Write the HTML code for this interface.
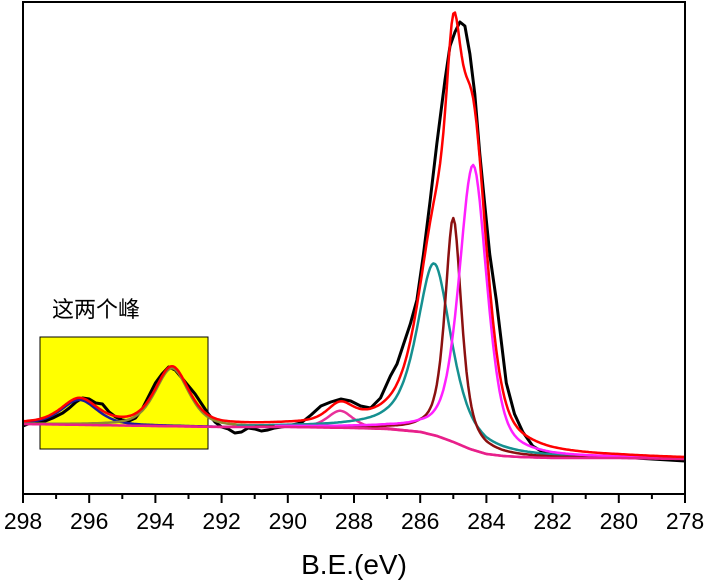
<!DOCTYPE html>
<html><head><meta charset="utf-8"><style>
html,body{margin:0;padding:0;background:#fff;width:708px;height:581px;overflow:hidden}
svg{display:block}
text{font-family:"Liberation Sans","Noto Sans CJK SC",sans-serif}
</style></head><body>
<svg id="chart" width="708" height="581"></svg>
<script>
// Binding energy axis ticks
const xTicks = [298,296,294,292,290,288,286,284,282,280,278];
const xMinorTicks = [297,295,293,291,289,287,285,283,281,279];
// Shirley background (energy, intensity)
const bgE = [298,292,290,288,287,286,285.5,285,284.5,284,283.5,283,282,280,278];
const bgV = [70,67,67,66,65,62,58,52,45,40,38,37,36,36,35];
// Fitted components
const compNames = ["blue-peak","olive-peak","pink-peak","teal-peak","maroon-peak","magenta-peak"];
const compCenters = [296.3,293.5,288.42,285.58,285.0,284.4];
const compHeights = [25,58,17,172,224,285];
const compFwhm = [1.3,1.2,0.9,1.25,0.6,1.0];
const compLorentz = [0.5,0.5,0.5,0.7,0.7,0.5];
const compColors = ["#1a1a9a","#8c8a30","#e8309a","#159090","#8b1010","#ff20ff"];
// Raw measured data
const rawE = [298,297.7,297.4,297.1,296.8,296.6,296.4,296.2,296,295.8,295.6,295.4,295.2,295,294.8,294.6,294.4,294.2,294,293.8,293.6,293.4,293.2,293,292.8,292.6,292.4,292.2,292,291.8,291.6,291.4,291.2,291,290.8,290.6,290.4,290.2,290,289.6,289.3,289,288.7,288.4,288.1,287.8,287.5,287.2,286.9,286.7,286.5,286.3,286.1,285.9,285.7,285.5,285.25,285.1,284.95,284.8,284.65,284.5,284.35,284.2,284.05,283.9,283.7,283.4,283.15,282.9,282.6,282.3,282,281.5,281,280.5,280,279.5,279,278.5,278];
const rawV = [68,72,72,76,81,86,92,96,95,91,90,82,77,74,73,76,85,98,111,120,127,124,116,108,100,90,80,72,67,65,61,62,66,65,63,64,66,67,68,71,79,88,92,95,93,88,86,96,118,130,150,170,194,240,293,350,414,448,462,472,468,440,400,340,290,240,194,111,80,62,48,42,40,39,38,37,37,36,35,34,33];

const W=708,H=581,L=23,R=685,T=2,B=494;
const xs = e => L + (298 - e) / 20 * (R - L);
const ys = v => B - v / 492 * (B - T);
const svg = document.getElementById('chart');
const NS='http://www.w3.org/2000/svg';
function mk(tag, attrs){const el=document.createElementNS(NS,tag);for(const k in attrs)el.setAttribute(k,attrs[k]);svg.appendChild(el);return el;}
function bgAt(e){
  if(e>=bgE[0])return bgV[0];
  for(let i=0;i<bgE.length-1;i++){ if(e<=bgE[i]&&e>=bgE[i+1]){const t=(bgE[i]-e)/(bgE[i]-bgE[i+1]);return bgV[i]+t*(bgV[i+1]-bgV[i]);}}
  return bgV[bgV.length-1];
}
function peak(i,e){const d=(e-compCenters[i])/compFwhm[i];const g=Math.exp(-4*Math.LN2*d*d),l=1/(1+4*d*d);const m=compLorentz[i];return compHeights[i]*((1-m)*g+m*l);}
const grid=[];for(let e=298;e>=278-1e-9;e-=0.05)grid.push(e);

// highlight box
let el=mk('rect',{x:40,y:337,width:168,height:112,fill:'#ffff00',stroke:'#000','stroke-width':1});


el=mk('text',{x:52,y:317,'font-size':22,fill:'#000'});el.textContent='这两个峰';



// raw data
el=mk('polyline',{points:rawE.map((e,i)=>xs(e).toFixed(1)+','+ys(rawV[i]).toFixed(1)).join(' '),fill:'none',stroke:'#000','stroke-width':3,'stroke-linejoin':'round'});



// components
compNames.forEach((n,i)=>{
  const pts=grid.filter(e=>Math.abs(e-compCenters[i])<6).map(e=>xs(e).toFixed(1)+','+ys(bgAt(e)+peak(i,e)).toFixed(1)).join(' ');
  const p=mk('polyline',{points:pts,fill:'none',stroke:compColors[i],'stroke-width':2.5,'stroke-linejoin':'round'});
  
  
});
// background
el=mk('polyline',{points:grid.map(e=>xs(e).toFixed(1)+','+ys(bgAt(e)).toFixed(1)).join(' '),fill:'none',stroke:'#e8208a','stroke-width':2.5});


// envelope
el=mk('polyline',{points:grid.map(e=>{let v=bgAt(e);for(let i=0;i<compCenters.length;i++)v+=peak(i,e);return xs(e).toFixed(1)+','+ys(v).toFixed(1);}).join(' '),fill:'none',stroke:'#ff0000','stroke-width':2.5,'stroke-linejoin':'round'});



// frame
el=mk('rect',{x:L,y:T,width:R-L,height:B-T,fill:'none',stroke:'#000','stroke-width':2});


xTicks.forEach(t=>{
  const tk=mk('line',{x1:xs(t),x2:xs(t),y1:B,y2:B+9,stroke:'#000','stroke-width':2});
  
  
  const lb=mk('text',{x:xs(t),y:529,'font-size':23,'text-anchor':'middle',fill:'#000'});lb.textContent=t;
  
  
});
xMinorTicks.forEach(t=>{
  const tk=mk('line',{x1:xs(t),x2:xs(t),y1:B,y2:B+5,stroke:'#000','stroke-width':2});
  
  
});
el=mk('text',{x:354,y:574,'font-size':28,'text-anchor':'middle',fill:'#000'});el.textContent='B.E.(eV)';


</script>
</body></html>
